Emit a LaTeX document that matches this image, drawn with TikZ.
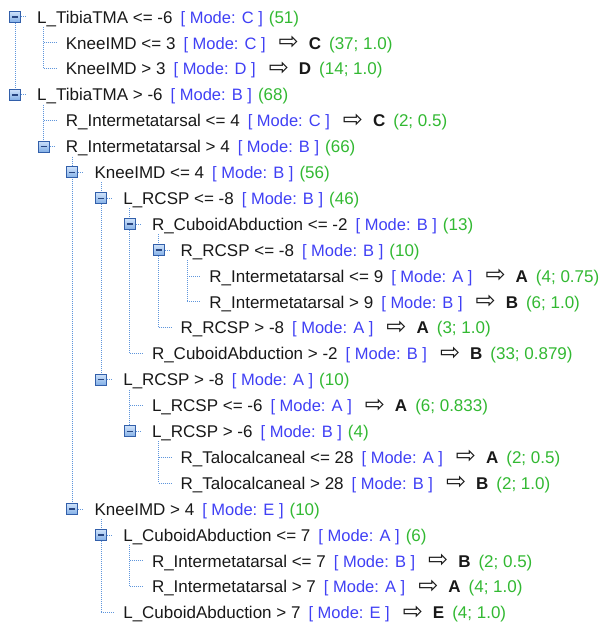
\documentclass[tikz,border=0pt]{standalone}
\usepackage{fontspec}
\setmainfont{Liberation Sans}
\newfontfamily\arrowfont{DejaVu Sans}
\usetikzlibrary{calc}
\definecolor{txtc}{RGB}{25,25,25}
\definecolor{modec}{RGB}{64,64,245}
\definecolor{cntc}{RGB}{50,185,50}
\definecolor{linec}{RGB}{95,150,220}
\definecolor{boxborder}{RGB}{50,95,170}
\definecolor{boxtop}{RGB}{205,225,250}
\definecolor{boxbot}{RGB}{130,175,230}
\definecolor{minusc}{RGB}{40,70,130}
\newcommand{\modelab}[1]{\hspace{8pt}{\color{modec}\fontsize{16.5}{20}\selectfont[ Mode: #1 ]}}
\newcommand{\countlab}[1]{\hspace{6pt}{\color{cntc}(#1)}}
\newcommand{\resultlab}[2]{\hspace{13pt}{\arrowfont\fontsize{24}{24}\selectfont\raisebox{-0.5pt}{⇨}}\hspace{10pt}\textbf{#1}\hspace{8pt}{\color{cntc}(#2)}}
\newcommand{\rowpos}[2]{\coordinate (b#1) at ({(15+28.7*#2)*1pt},{(-17-25.9*(#1-1))*1pt});}
\newcommand{\kids}[2]{\draw[tline] ($(b#2 |- b#1)+(0,-10pt)$) -- (b#2);}
\newcommand{\leafline}[1]{\draw[tline] (b#1) -- ++(14pt,0);}
\newcommand{\stubline}[1]{\draw[tline] ([xshift=6pt]b#1) -- ++(5pt,0);}
\newcommand{\tbox}[1]{\node[tboxst] (k#1) at (b#1) {};
  \draw[minusst] ([xshift=-3pt]k#1.center) -- ([xshift=3pt]k#1.center);}
\newcommand{\rowtext}[2]{\node[lbl] (t#1) at ($(b#1)+(22pt,-6.1pt)$) {#2};}
\tikzset{
  tline/.style={draw=linec, line width=1pt, dash pattern=on 1pt off 1pt},
  tboxst/.style={rectangle, draw=boxborder, line width=1pt, top color=boxtop, bottom color=boxbot, minimum size=11pt, inner sep=0pt},
  minusst/.style={draw=minusc, line width=1.6pt},
  lbl/.style={anchor=base west, inner sep=0pt, text=txtc, font=\fontsize{17}{20}\selectfont}
}
\begin{document}
\begin{tikzpicture}
\fill[white] (0,0) rectangle (603pt,-626pt);
\useasboundingbox (0,0) rectangle (603pt,-626pt);
% row positions: row, level
\rowpos{1}{0}\rowpos{2}{1}\rowpos{3}{1}\rowpos{4}{0}\rowpos{5}{1}\rowpos{6}{1}
\rowpos{7}{2}\rowpos{8}{3}\rowpos{9}{4}\rowpos{10}{5}\rowpos{11}{6}\rowpos{12}{6}
\rowpos{13}{5}\rowpos{14}{4}\rowpos{15}{3}\rowpos{16}{4}\rowpos{17}{4}\rowpos{18}{5}
\rowpos{19}{5}\rowpos{20}{2}\rowpos{21}{3}\rowpos{22}{4}\rowpos{23}{4}\rowpos{24}{3}
% tree lines
\draw[tline] (b1) -- (b4);
\kids{1}{3}\kids{4}{6}\kids{6}{20}\kids{7}{15}\kids{8}{14}\kids{9}{13}
\kids{10}{12}\kids{15}{17}\kids{17}{19}\kids{20}{24}\kids{21}{23}
\leafline{2}\leafline{3}\leafline{5}\leafline{11}\leafline{12}\leafline{13}
\leafline{14}\leafline{16}\leafline{18}\leafline{19}\leafline{22}\leafline{23}\leafline{24}
\stubline{1}\stubline{4}\stubline{6}\stubline{7}\stubline{8}\stubline{9}
\stubline{10}\stubline{15}\stubline{17}\stubline{20}\stubline{21}
% expander boxes
\tbox{1}\tbox{4}\tbox{6}\tbox{7}\tbox{8}\tbox{9}\tbox{10}\tbox{15}\tbox{17}\tbox{20}\tbox{21}
% texts
\rowtext{1}{L\_TibiaTMA <= -6\modelab{C}\countlab{51}}
\rowtext{2}{KneeIMD <= 3\modelab{C}\resultlab{C}{37; 1.0}}
\rowtext{3}{KneeIMD > 3\modelab{D}\resultlab{D}{14; 1.0}}
\rowtext{4}{L\_TibiaTMA > -6\modelab{B}\countlab{68}}
\rowtext{5}{R\_Intermetatarsal <= 4\modelab{C}\resultlab{C}{2; 0.5}}
\rowtext{6}{R\_Intermetatarsal > 4\modelab{B}\countlab{66}}
\rowtext{7}{KneeIMD <= 4\modelab{B}\countlab{56}}
\rowtext{8}{L\_RCSP <= -8\modelab{B}\countlab{46}}
\rowtext{9}{R\_CuboidAbduction <= -2\modelab{B}\countlab{13}}
\rowtext{10}{R\_RCSP <= -8\modelab{B}\countlab{10}}
\rowtext{11}{R\_Intermetatarsal <= 9\modelab{A}\resultlab{A}{4; 0.75}}
\rowtext{12}{R\_Intermetatarsal > 9\modelab{B}\resultlab{B}{6; 1.0}}
\rowtext{13}{R\_RCSP > -8\modelab{A}\resultlab{A}{3; 1.0}}
\rowtext{14}{R\_CuboidAbduction > -2\modelab{B}\resultlab{B}{33; 0.879}}
\rowtext{15}{L\_RCSP > -8\modelab{A}\countlab{10}}
\rowtext{16}{L\_RCSP <= -6\modelab{A}\resultlab{A}{6; 0.833}}
\rowtext{17}{L\_RCSP > -6\modelab{B}\countlab{4}}
\rowtext{18}{R\_Talocalcaneal <= 28\modelab{A}\resultlab{A}{2; 0.5}}
\rowtext{19}{R\_Talocalcaneal > 28\modelab{B}\resultlab{B}{2; 1.0}}
\rowtext{20}{KneeIMD > 4\modelab{E}\countlab{10}}
\rowtext{21}{L\_CuboidAbduction <= 7\modelab{A}\countlab{6}}
\rowtext{22}{R\_Intermetatarsal <= 7\modelab{B}\resultlab{B}{2; 0.5}}
\rowtext{23}{R\_Intermetatarsal > 7\modelab{A}\resultlab{A}{4; 1.0}}
\rowtext{24}{L\_CuboidAbduction > 7\modelab{E}\resultlab{E}{4; 1.0}}
\end{tikzpicture}
\end{document}
